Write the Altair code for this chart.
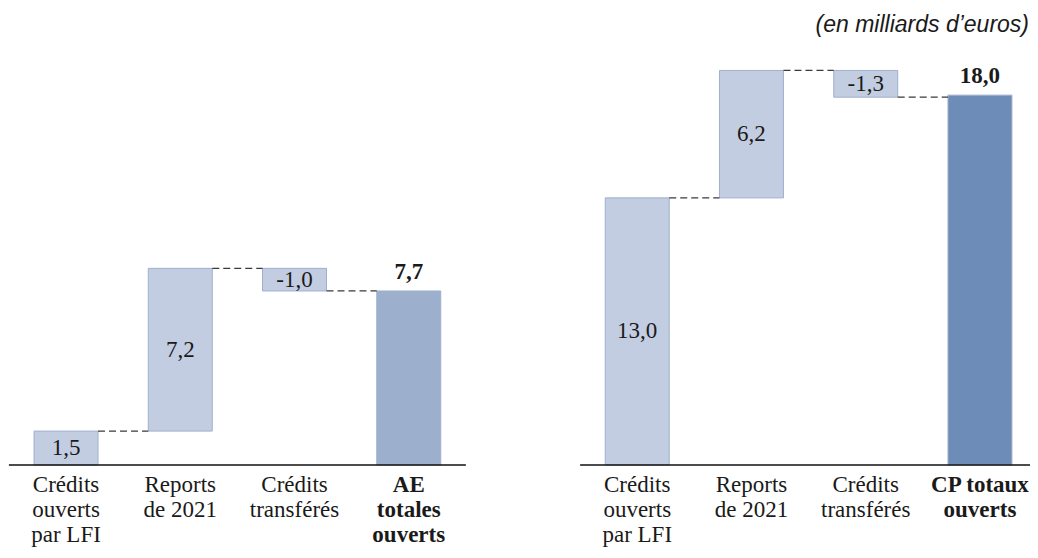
import altair as alt
import pandas as pd

# ---- data ----
left_categories = ["Crédits\nouverts\npar LFI", "Reports\nde 2021", "Crédits\ntransférés", "AE\ntotales\nouverts"]
left_values = [1.5, 7.2, -1.0, 7.7]
right_categories = ["Crédits\nouverts\npar LFI", "Reports\nde 2021", "Crédits\ntransférés", "CP totaux\nouverts"]
right_values = [13.0, 6.2, -1.3, 18.0]
left_labels = ["1,5", "7,2", "-1,0", "7,7"]
right_labels = ["13,0", "6,2", "-1,3", "18,0"]
kinds = ["base", "delta", "delta", "total"]
unit_title = "(en milliards d\u2019euros)"

# ---- styles ----
LIGHT = "#c3cde1"
LIGHT_STROKE = "#9fb0cd"
LEFT_TOTAL = "#9cafcd"
RIGHT_TOTAL = "#6d8cb8"
TEXT = "#1a1a1a"
SERIF = "Liberation Serif"
FS = 23
HALF = 0.28
W, H = 1022, 457
XMIN, XMAX = -0.508, 8.438


def build(values, labels, cats, offset):
    rows, conns = [], []
    run = 0.0
    for i, (v, lab, cat, k) in enumerate(zip(values, labels, cats, kinds)):
        if k == "total":
            s, e = 0.0, v
        else:
            s, e = run, run + v
            run = e
        rows.append(dict(x=offset + i, x0=offset + i - HALF, x1=offset + i + HALF,
                         start=s, end=e, mid=(s + e) / 2, label=lab, cat=cat,
                         kind=k, total=(k == "total")))
    for i in range(len(rows) - 1):
        conns.append(dict(cx0=rows[i]["x1"], cx1=rows[i + 1]["x0"], level=rows[i]["end"]))
    return pd.DataFrame(rows), pd.DataFrame(conns)


xscale = alt.Scale(domain=[XMIN, XMAX], nice=False, zero=False)


def panel(values, labels, cats, offset, total_color, ymax, extra=None):
    df, cf = build(values, labels, cats, offset)
    ysc = alt.Scale(domain=[0, ymax], nice=False, zero=True)
    base = alt.Chart(df)
    bars = base.mark_bar(stroke=LIGHT_STROKE, strokeWidth=1).encode(
        x=alt.X("x0:Q", scale=xscale, axis=None),
        x2="x1:Q",
        y=alt.Y("start:Q", scale=ysc, axis=None),
        y2="end:Q",
        color=alt.condition("datum.total", alt.value(total_color), alt.value(LIGHT)),
    )
    conn = alt.Chart(cf).mark_rule(strokeDash=[7, 4], color="#3a3a3a", strokeWidth=1.2).encode(
        x=alt.X("cx0:Q", scale=xscale), x2="cx1:Q",
        y=alt.Y("level:Q", scale=ysc),
    )
    axis_df = pd.DataFrame({"a0": [max(offset - 0.5, XMIN)],
                            "a1": [min(offset + 3.5, XMAX)], "zero": [0.0]})
    baseline = alt.Chart(axis_df).mark_rule(color="#111111", strokeWidth=1.5).encode(
        x=alt.X("a0:Q", scale=xscale), x2="a1:Q", y=alt.Y("zero:Q", scale=ysc),
    )
    inner = base.transform_filter("!datum.total").mark_text(
        font=SERIF, fontSize=FS, color=TEXT, baseline="middle", align="center"
    ).encode(x=alt.X("x:Q", scale=xscale), y=alt.Y("mid:Q", scale=ysc), text="label:N")
    top = base.transform_filter("datum.total").mark_text(
        font=SERIF, fontSize=FS, fontWeight="bold", color=TEXT, baseline="middle",
        align="center", dy=-19
    ).encode(x=alt.X("x:Q", scale=xscale), y=alt.Y("end:Q", scale=ysc), text="label:N")
    cat_norm = base.transform_filter("!datum.total").mark_text(
        font=SERIF, fontSize=FS, color=TEXT, baseline="alphabetic", align="center",
        lineBreak="\n", lineHeight=25
    ).encode(x=alt.X("x:Q", scale=xscale), y=alt.value(484), text="cat:N")
    cat_bold = base.transform_filter("datum.total").mark_text(
        font=SERIF, fontSize=FS, fontWeight="bold", color=TEXT, baseline="alphabetic",
        align="center", lineBreak="\n", lineHeight=25
    ).encode(x=alt.X("x:Q", scale=xscale), y=alt.value(484), text="cat:N")
    layers = [bars, conn, baseline, inner, top, cat_norm, cat_bold]
    if extra is not None:
        layers.append(extra)
    return alt.layer(*layers)


title_mark = alt.Chart(pd.DataFrame({"t": [unit_title]})).mark_text(
    font="Liberation Sans", fontSize=23, fontStyle="italic", color=TEXT,
    align="right", baseline="alphabetic"
).encode(x=alt.value(1021), y=alt.value(24), text="t:N")

left = panel(left_values, left_labels, left_categories, 0, LEFT_TOTAL, 20.22)
right = panel(right_values, right_labels, right_categories, 5, RIGHT_TOTAL, 22.24, title_mark)

chart = alt.layer(left, right).resolve_scale(y="independent").properties(
    width=W, height=H,
    padding={"left": 0, "right": 0, "top": 0, "bottom": 85},
    autosize=alt.AutoSizeParams(type="none"),
).configure_view(stroke=None)

chart.save("out.html", embed_options={"renderer": "svg", "actions": False})
